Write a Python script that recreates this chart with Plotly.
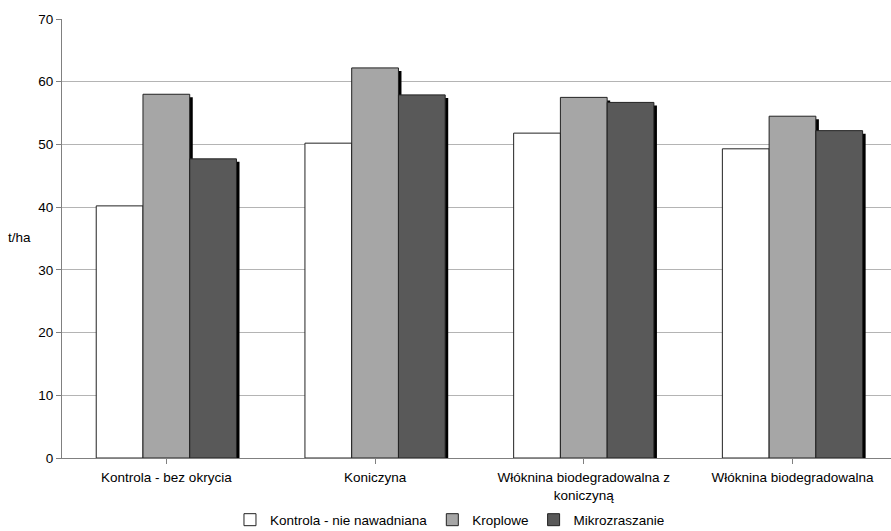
import plotly.graph_objects as go

# Yield by mulch type and irrigation method
categories = [
    "Kontrola - bez okrycia",
    "Koniczyna",
    "Włóknina biodegradowalna z<br>koniczyną",
    "Włóknina biodegradowalna",
]
series_names = ["Kontrola - nie nawadniana", "Kroplowe", "Mikrozraszanie"]
kontrola = [40.2, 50.2, 51.8, 49.3]
kroplowe = [58.0, 62.2, 57.5, 54.5]
mikrozraszanie = [47.7, 57.9, 56.7, 52.2]
y_ticks = [0, 10, 20, 30, 40, 50, 60, 70]

series_values = [kontrola, kroplowe, mikrozraszanie]
fills = ["#ffffff", "#a6a6a6", "#595959"]

FONT = "Liberation Sans, Arial, sans-serif"
bar_w = 0.224                   # width of one bar in category units
group_w = bar_w * len(series_values)
shadow_dx = 0.0145              # drop shadow offset, category units
shadow_dy = 0.48                # drop shadow offset, value units

x_idx = list(range(len(categories)))

fig = go.Figure()

# black drop shadows underneath the bars
for i, vals in enumerate(series_values):
    fig.add_trace(go.Bar(
        x=x_idx, y=vals, base=-shadow_dy,
        width=bar_w, offset=-group_w / 2 + i * bar_w + shadow_dx,
        marker=dict(color="#000000", line=dict(width=0)),
        showlegend=False, hoverinfo="skip",
    ))

# the bars themselves
for i, (name, vals) in enumerate(zip(series_names, series_values)):
    fig.add_trace(go.Bar(
        x=x_idx, y=vals, name=name,
        width=bar_w, offset=-group_w / 2 + i * bar_w,
        marker=dict(color=fills[i], line=dict(color="#222222", width=1)),
    ))

fig.update_layout(
    width=891, height=531,
    margin=dict(l=62, r=0, t=19, b=73, autoexpand=False),
    paper_bgcolor="#ffffff", plot_bgcolor="#ffffff",
    barmode="overlay",
    font=dict(family=FONT, size=13.5, color="#000000"),
    showlegend=True,
    legend=dict(
        orientation="h", x=0.468, xanchor="center", y=-0.141, yanchor="middle",
        font=dict(size=13.5), itemwidth=30, tracegroupgap=0,
        bgcolor="rgba(0,0,0,0)",
    ),
    xaxis=dict(
        range=[-0.5, 3.472],
        tickmode="array", tickvals=x_idx, ticktext=categories,
        showgrid=False, showline=True, linecolor="#808080", linewidth=1,
        ticks="outside", ticklen=5, tickcolor="#808080",
        ticklabelstandoff=2,
        zeroline=False,
    ),
    yaxis=dict(
        range=[0, 70], tickmode="array", tickvals=y_ticks,
        showgrid=True, gridcolor="#b4b4b4", gridwidth=1,
        showline=True, linecolor="#808080", linewidth=1,
        ticks="outside", ticklen=5, tickcolor="#808080",
        zeroline=False,
    ),
    annotations=[dict(
        text="t/ha", xref="paper", yref="paper", x=-0.0507, y=0.503,
        xanchor="center", yanchor="middle", showarrow=False,
        font=dict(size=13.5),
    )],
)

# category boundaries carry the x tick marks
fig.update_xaxes(tickson="boundaries")

fig.write_html("out.html")
